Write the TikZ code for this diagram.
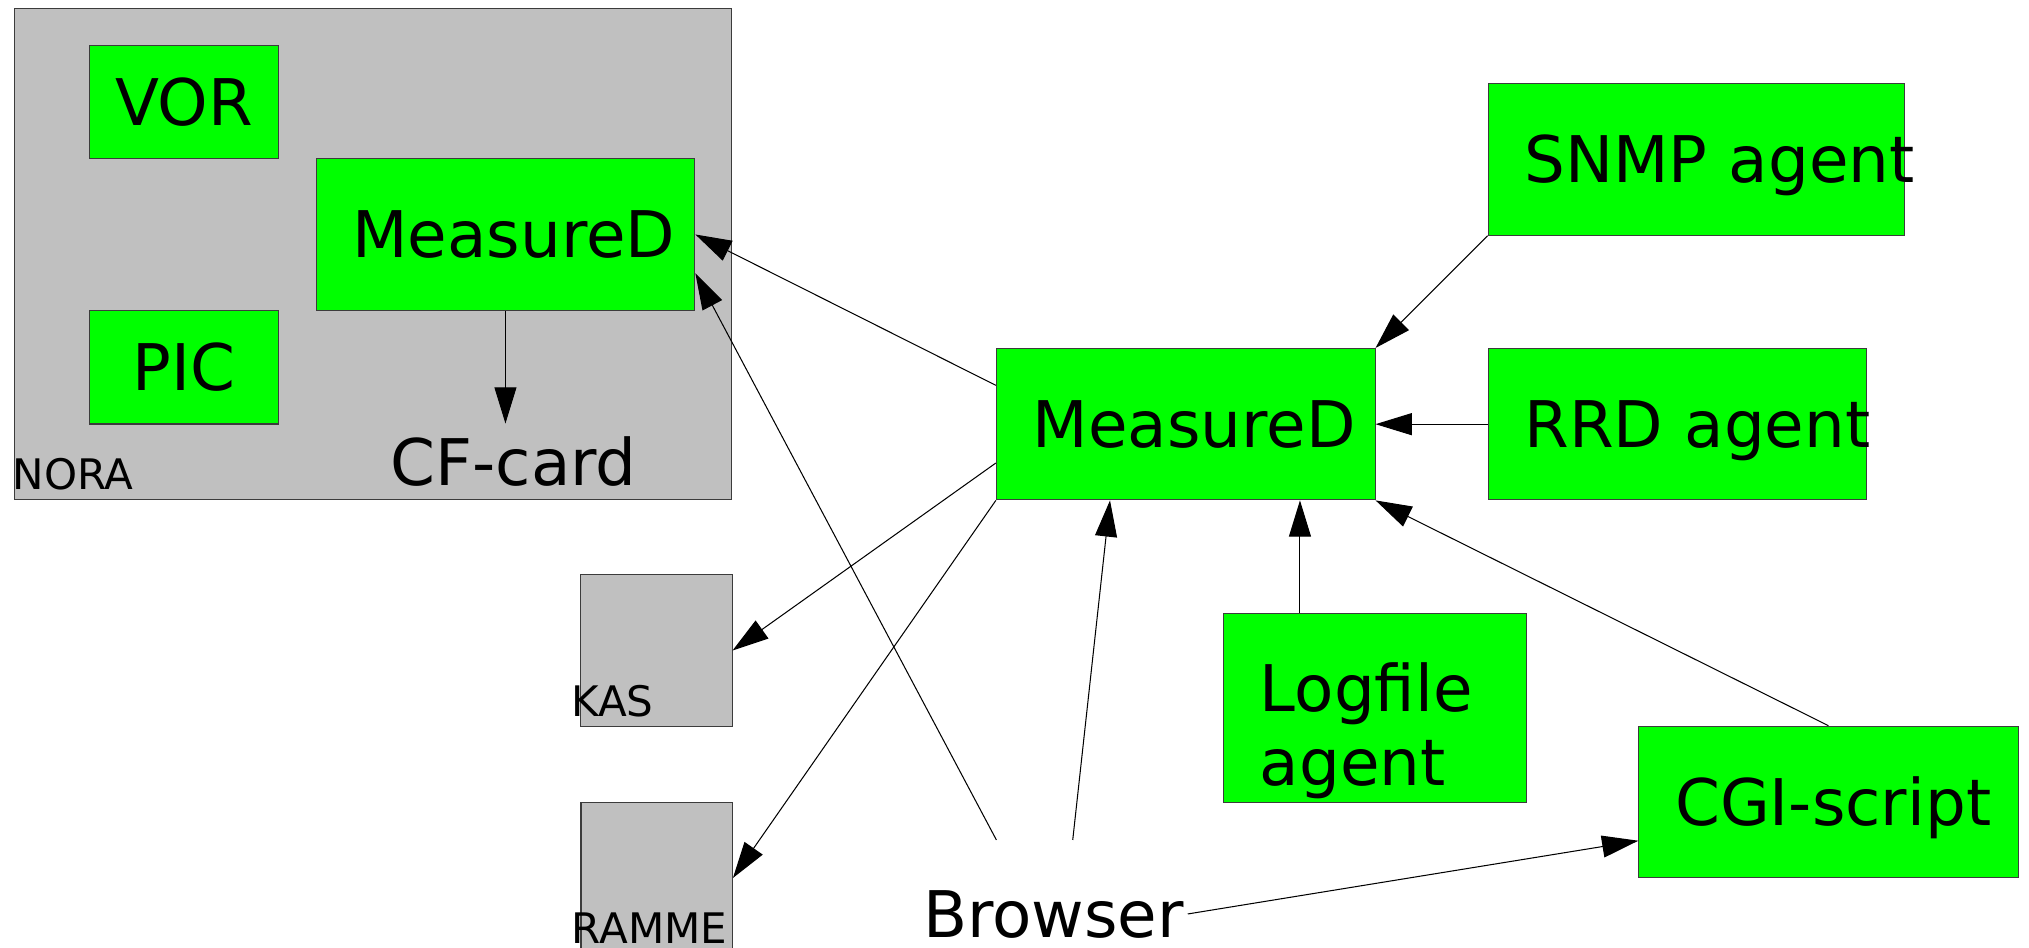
\documentclass[tikz,border=0pt]{standalone}
\usepackage{fontspec}
\setmainfont{DejaVu Sans}
\usetikzlibrary{arrows.meta}
\definecolor{boxgreen}{HTML}{00FF00}
\definecolor{boxgray}{HTML}{C0C0C0}
\definecolor{boxline}{HTML}{3C3C3C}
\newcommand{\boxfont}{\fontsize{49.7pt}{57pt}\selectfont}
\newcommand{\tagfont}{\fontsize{32.5pt}{38pt}\selectfont}
\tikzset{
  greenbox/.style={
    draw=boxline,
    fill=boxgreen,
    line width=0.8pt,
    minimum height=117pt,
    inner xsep=28pt,
    inner ysep=0pt,
    align=left,
    font=\boxfont,
    text height=36.2pt,
    text depth=0pt
  },
  centerbox/.style={greenbox, align=center, inner xsep=4pt, minimum width=146pt, minimum height=87.5pt},
  graybox/.style={draw=boxline, fill=boxgray, line width=0.8pt, minimum width=117pt, minimum height=117pt},
  graylabel/.style={anchor=base west, inner sep=0pt, font=\tagfont, yshift=8pt},
  plaintext/.style={font=\boxfont, text height=36.2pt, text depth=0pt},
  arrow/.style={-{Triangle[length=28pt,width=17pt]}, line width=0.8pt, draw=black}
}

\begin{document}
\begin{tikzpicture}[x=1pt, y=-1pt]
  \useasboundingbox (0,0) rectangle (1568,732.6);

  \node[graybox, minimum width=554.5pt, minimum height=379.6pt, label={[graylabel, xshift=-1pt]south west:NORA}] (nora) at (288.2,196.2) {};
  \node[centerbox] (vor) at (142.3,79) {VOR};
  \node[centerbox] (pic) at (142.3,283.9) {PIC};
  \node[greenbox, text width=236.7pt] (mdl) at (390.6,181.2) {MeasureD};
  \node[plaintext, inner ysep=11.4pt] (cf) at (397,357) {CF-card};

  \node[graybox, label={[graylabel, xshift=-7pt]south west:KAS}] (kas) at (507.2,502.7) {};
  \node[graybox, label={[graylabel, xshift=-7pt]south west:RAMME}] (ramme) at (507.5,678.5) {};

  \node[greenbox, text width=236.6pt] (mdc) at (916.3,327.8) {MeasureD};
  \node[greenbox, text width=265.7pt] (snmp) at (1310.8,123.3) {\mbox{SNMP agent}};
  \node[greenbox, text width=236.2pt] (rrd) at (1296.1,327.8) {\mbox{RRD agent}};
  \node[greenbox, text width=177.8pt, minimum height=146pt, text depth=30.2pt] (lfa) at (1062.6,547) {Logfile\\agent};
  \node[greenbox, text width=237pt] (cgi) at (1413,619.7) {\mbox{CGI-script}};
  \node[plaintext, minimum height=114pt, inner xsep=3pt] (browser) at (814,706.3) {Browser};

  \draw[arrow] (mdl.south) -- (mdl.south |- cf.north);
  \draw[arrow] ([yshift=30pt]mdc.west) -- (mdl.east);
  \draw[arrow] ([xshift=-44pt]browser.north) -- ([yshift=-30pt]mdl.east);
  \draw[arrow] ([yshift=-30pt]mdc.west) -- (kas.east);
  \draw[arrow] (mdc.south west) -- (ramme.east);
  \draw[arrow] ([xshift=15pt]browser.north) -- ([xshift=-58.5pt]mdc.south);
  \draw[arrow] ([xshift=-58pt]lfa.north) -- ([xshift=-58pt]lfa.north |- mdc.south);
  \draw[arrow] (rrd.west) -- (mdc.east);
  \draw[arrow] (snmp.south west) -- (mdc.north east);
  \draw[arrow] (cgi.north) -- (mdc.south east);
  \draw[arrow] (browser.east) -- ([yshift=-30pt]cgi.west);
\end{tikzpicture}
\end{document}
